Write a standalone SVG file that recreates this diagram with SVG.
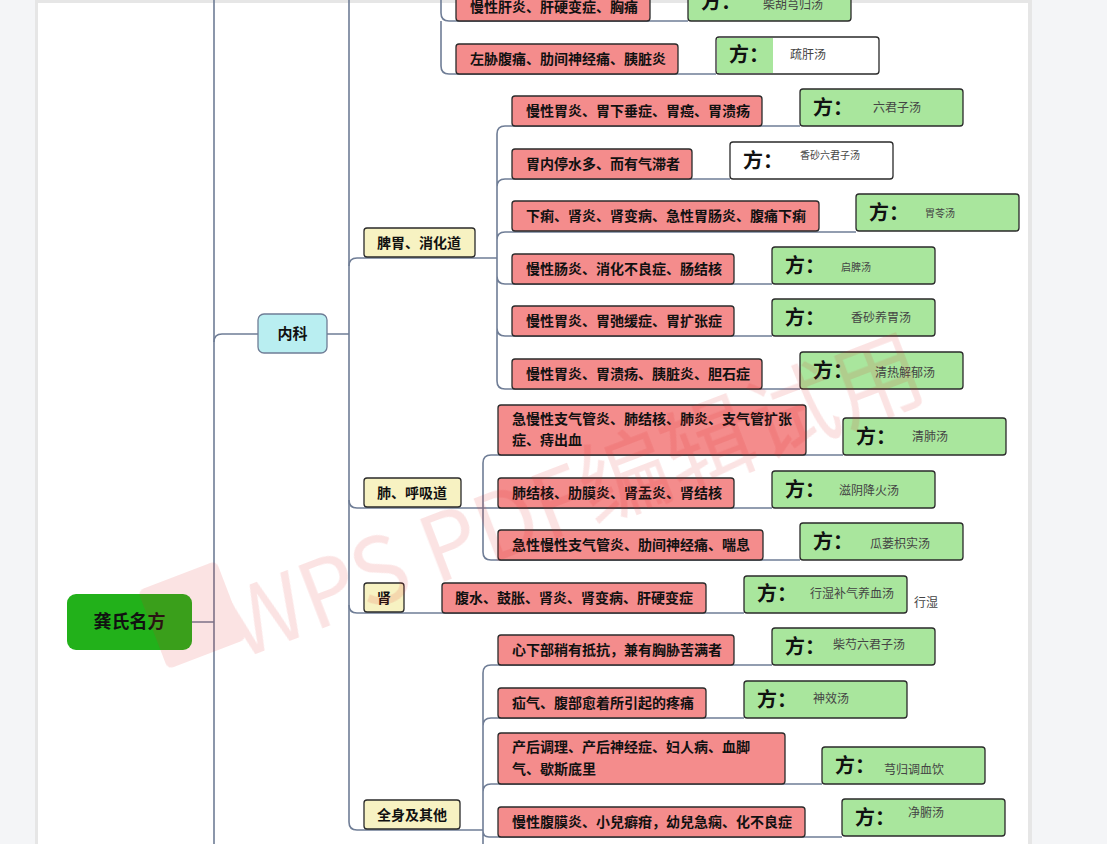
<svg xmlns="http://www.w3.org/2000/svg" width="1107" height="844" viewBox="0 0 1107 844">
<style>
text{font-family:"Noto Sans CJK SC","Noto Sans",sans-serif;}
.ln{fill:none;stroke:#6f7d96;stroke-width:1.6;}
.red{fill:#f48c8c;stroke:#2a2a2a;stroke-width:1.3;}
.grn{fill:#a9e69d;stroke:#2a2a2a;stroke-width:1.3;}
.wht{fill:#ffffff;stroke:#2a2a2a;stroke-width:1.3;}
.yel{fill:#f7f2c2;stroke:#2a2a2a;stroke-width:1.3;}
.t{font-size:14px;font-weight:700;fill:#111;}
.fang{font-size:20px;font-weight:700;fill:#111;}
.rx{font-size:12px;fill:#444;}
.rs{font-size:10px;fill:#444;}
</style>
<rect x="0" y="0" width="1107" height="844" fill="#f4f5f7"/>
<rect x="35" y="0" width="997" height="844" fill="#e6e6e6"/>
<rect x="38" y="3" width="990" height="841" fill="#ffffff"/>
<g id="connectors">
<path class="ln" d="M192 622 L214 622 M214 0 L214 844"/>
<path class="ln" d="M214 342 Q214 334 222 334 L258 334"/>
<path class="ln" d="M327 334 L349 334 M349 0 L349 822 Q349 830 357 830 L483 830"/>
<path class="ln" d="M349 266 Q349 258 357 258 L497 258"/>
<path class="ln" d="M349 500 Q349 508 357 508 L483 508"/>
<path class="ln" d="M349 605 Q349 613 357 613 L744 613"/>
<path class="ln" d="M441 0 L441 13 Q441 21 449 21 L688 21 M441 21 L441 66 Q441 74 449 74 L716 74"/>
<path class="ln" d="M497 258 L497 134 Q497 126 505 126 L800 126 M497 187 Q497 179 505 179 L730 179 M497 240 Q497 232 505 232 L856 232"/>
<path class="ln" d="M497 258 L497 381 Q497 389 505 389 L800 389 M497 276 Q497 284 505 284 L772 284 M497 328 Q497 336 505 336 L772 336"/>
<path class="ln" d="M483 508 L483 463 Q483 455 491 455 L843 455 M483 508 L772 508 M483 508 L483 552 Q483 560 491 560 L800 560"/>
<path class="ln" d="M483 844 L483 673 Q483 665 491 665 L772 665 M483 726 Q483 718 491 718 L744 718 M483 792 Q483 784 491 784 L822 784 M483 831 Q483 837 489 837 L842 837"/>
</g>
<g id="root"><rect x="67" y="594" width="125" height="56" rx="9" fill="#22b11a"/><text x="129.5" y="628" font-size="18" font-weight="700" text-anchor="middle" fill="#111">龚氏名方</text></g>
<g id="neike"><rect x="258" y="314" width="69" height="39" rx="6" fill="#b9eef1" stroke="#6f7d96" stroke-width="1.3"/><text x="292.5" y="339" font-size="15" font-weight="700" text-anchor="middle" fill="#111">内科</text></g>
<g id="piwei"><rect class="yel" x="364" y="228" width="111" height="29" rx="3"/><text class="t" x="377" y="248">脾胃、消化道</text></g>
<g id="fei"><rect class="yel" x="364" y="478" width="97" height="29" rx="3"/><text class="t" x="377" y="498">肺、呼吸道</text></g>
<g id="shen"><rect class="yel" x="364" y="583" width="40" height="29" rx="3"/><text class="t" x="384" y="603" text-anchor="middle">肾</text></g>
<g id="quanshen"><rect class="yel" x="364" y="800" width="96" height="29" rx="3"/><text class="t" x="377" y="820">全身及其他</text></g>

<g id="g1"><rect class="red" x="456" y="-9" width="194" height="30" rx="3"/><text class="t" x="470" y="12">慢性肝炎、肝硬变症、胸痛</text>
<rect class="grn" x="688" y="-16" width="163" height="37" rx="3"/><text class="fang" x="701" y="9">方：</text><text class="rx" x="763" y="9">柴胡芎归汤</text></g>
<g id="g2"><rect class="red" x="456" y="44" width="222" height="30" rx="3"/><text class="t" x="470" y="64">左胁腹痛、肋间神经痛、胰脏炎</text>
<rect class="wht" x="716" y="37" width="163" height="37" rx="3"/><path d="M717 38 H773 V73 H717 Z" fill="#a9e69d"/><text class="fang" x="729" y="62">方：</text><text class="rx" x="790" y="59">疏肝汤</text></g>
<g id="p1"><rect class="red" x="512" y="96" width="250" height="30" rx="3"/><text class="t" x="526" y="116">慢性胃炎、胃下垂症、胃癌、胃溃疡</text>
<rect class="grn" x="800" y="89" width="163" height="37" rx="3"/><text class="fang" x="813" y="115">方：</text><text class="rx" x="873" y="112">六君子汤</text></g>
<g id="p2"><rect class="red" x="512" y="149" width="180" height="30" rx="3"/><text class="t" x="526" y="169">胃内停水多、而有气滞者</text>
<rect class="wht" x="730" y="142" width="163" height="37" rx="3"/><text class="fang" x="743" y="168">方：</text><text class="rs" x="800" y="159">香砂六君子汤</text></g>
<g id="p3"><rect class="red" x="512" y="201" width="307" height="30" rx="3"/><text class="t" x="526" y="221">下痢、肾炎、肾变病、急性胃肠炎、腹痛下痢</text>
<rect class="grn" x="856" y="194" width="163" height="37" rx="3"/><text class="fang" x="869" y="220">方：</text><text class="rs" x="925" y="217">胃苓汤</text></g>
<g id="p4"><rect class="red" x="512" y="254" width="222" height="30" rx="3"/><text class="t" x="526" y="274">慢性肠炎、消化不良症、肠结核</text>
<rect class="grn" x="772" y="247" width="163" height="37" rx="3"/><text class="fang" x="785" y="273">方：</text><text class="rs" x="841" y="271">启脾汤</text></g>
<g id="p5"><rect class="red" x="512" y="306" width="222" height="30" rx="3"/><text class="t" x="526" y="326">慢性胃炎、胃弛缓症、胃扩张症</text>
<rect class="grn" x="772" y="299" width="163" height="37" rx="3"/><text class="fang" x="785" y="325">方：</text><text class="rx" x="851" y="322" font-size="13">香砂养胃汤</text></g>
<g id="p6"><rect class="red" x="512" y="359" width="250" height="30" rx="3"/><text class="t" x="526" y="379">慢性胃炎、胃溃疡、胰脏炎、胆石症</text>
<rect class="grn" x="800" y="352" width="163" height="37" rx="3"/><text class="fang" x="813" y="378">方：</text><text class="rx" x="875" y="377" font-size="13">清热解郁汤</text></g>
<g id="f1"><rect class="red" x="498" y="405" width="308" height="50" rx="3"/><text class="t" x="512" y="424">急慢性支气管炎、肺结核、肺炎、支气管扩张</text><text class="t" x="512" y="445">症、痔出血</text>
<rect class="grn" x="843" y="418" width="163" height="37" rx="3"/><text class="fang" x="856" y="444">方：</text><text class="rx" x="912" y="441">清肺汤</text></g>
<g id="f2"><rect class="red" x="498" y="478" width="236" height="30" rx="3"/><text class="t" x="512" y="498">肺结核、肋膜炎、肾盂炎、肾结核</text>
<rect class="grn" x="772" y="471" width="163" height="37" rx="3"/><text class="fang" x="785" y="497">方：</text><text class="rx" x="839" y="495">滋阴降火汤</text></g>
<g id="f3"><rect class="red" x="498" y="530" width="265" height="30" rx="3"/><text class="t" x="512" y="550">急性慢性支气管炎、肋间神经痛、喘息</text>
<rect class="grn" x="800" y="523" width="163" height="37" rx="3"/><text class="fang" x="813" y="549">方：</text><text class="rx" x="870" y="548">瓜蒌枳实汤</text></g>
<g id="s1"><rect class="red" x="442" y="583" width="264" height="30" rx="3"/><text class="t" x="455" y="603">腹水、鼓胀、肾炎、肾变病、肝硬变症</text>
<rect class="grn" x="744" y="576" width="163" height="37" rx="3"/><text class="fang" x="757" y="601">方：</text><text class="rx" x="810" y="598">行湿补气养血汤</text><text class="rx" x="914" y="607">行湿</text></g>
<g id="q1"><rect class="red" x="498" y="635" width="236" height="30" rx="3"/><text class="t" x="512" y="655">心下部稍有抵抗，兼有胸胁苦满者</text>
<rect class="grn" x="772" y="628" width="163" height="37" rx="3"/><text class="fang" x="785" y="654">方：</text><text class="rx" x="833" y="649">柴芍六君子汤</text></g>
<g id="q2"><rect class="red" x="498" y="688" width="208" height="30" rx="3"/><text class="t" x="512" y="708">疝气、腹部愈着所引起的疼痛</text>
<rect class="grn" x="744" y="681" width="163" height="37" rx="3"/><text class="fang" x="757" y="707">方：</text><text class="rx" x="813" y="703">神效汤</text></g>
<g id="q3"><rect class="red" x="498" y="733" width="287" height="51" rx="3"/><text class="t" x="512" y="752">产后调理、产后神经症、妇人病、血脚</text><text class="t" x="512" y="774">气、歇斯底里</text>
<rect class="grn" x="822" y="747" width="163" height="37" rx="3"/><text class="fang" x="835" y="773">方：</text><text class="rx" x="884" y="774">芎归调血饮</text></g>
<g id="q4"><rect class="red" x="498" y="807" width="307" height="30" rx="3"/><text class="t" x="512" y="827">慢性腹膜炎、小兒癖疳，幼兒急痫、化不良症</text>
<rect class="grn" x="842" y="799" width="163" height="37" rx="3"/><text class="fang" x="855" y="825">方：</text><text class="rx" x="908" y="817">净腑汤</text></g>

<g id="watermark" opacity="0.13" fill="#e02a2a">
<g transform="translate(192 615) rotate(-21)"><rect x="-42" y="-42" width="84" height="84" rx="6"/></g>
<text x="240" y="660" transform="rotate(-21 240 660)" font-size="92" textLength="740" lengthAdjust="spacingAndGlyphs">WPS PDF编辑试用</text>
</g>
</svg>
